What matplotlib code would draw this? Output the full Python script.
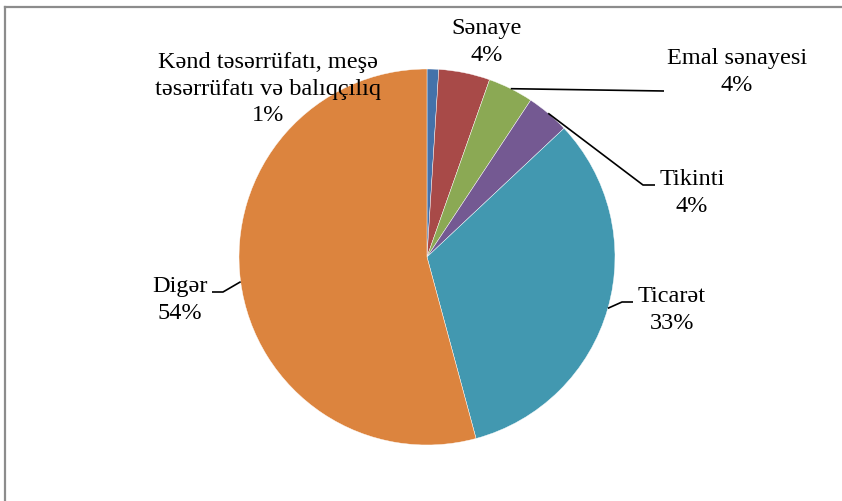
import matplotlib
matplotlib.use("Agg")

import numpy as np
import matplotlib.pyplot as plt
from matplotlib.lines import Line2D

# sectors, clockwise from 12 o'clock
labels = ["Kənd təsərrüfatı, meşə\ntəsərrüfatı və balıqçılıq", "Sənaye", "Emal sənayesi",
          "Tikinti", "Ticarət", "Digər"]
shares = [1.0, 4.4, 3.9, 3.7, 32.8, 54.2]
colors = ["#4472AA", "#A84A48", "#8BA954", "#745992", "#4298B0", "#DC843E"]

W, H = 842, 502
plt.rcParams["font.family"] = ["Liberation Serif", "DejaVu Serif"]

fig = plt.figure(figsize=(W / 100, H / 100), dpi=100)
ax = fig.add_axes([0, 0, 1, 1])

cx, cy, r = 427, H - 258, 188
wedges, _ = ax.pie(shares, colors=colors, startangle=90, counterclock=False,
                   center=(cx, cy), radius=r, frame=True,
                   wedgeprops=dict(edgecolor="white", linewidth=0.3))
ax.set_xlim(0, W)
ax.set_ylim(0, H)
ax.axis("off")

# label centre (pixels from top-left) and leader elbow (None = no leader)
label_pos = [(268, 89), (487, 42), (737, 72), (692, 193), (672, 310), (180, 300)]
elbows = [None, None, [(664, 92)], [(643, 186), (655, 186)],
          [(622, 303), (633, 303)], [(223, 293), (212, 293)]]

for w, lab, val, (lx, ly), elb in zip(wedges, labels, shares, label_pos, elbows):
    ax.text(lx, H - ly, f"{lab}\n{val:.0f}%", ha="center", va="center",
            fontsize=17.5, linespacing=1.35, color="black")
    if elb:
        mid = np.deg2rad((w.theta1 + w.theta2) / 2)
        xs = [cx + r * np.cos(mid)] + [p[0] for p in elb]
        ys = [cy + r * np.sin(mid)] + [H - p[1] for p in elb]
        ax.plot(xs, ys, color="black", lw=1.2, solid_capstyle="butt")

# chart area border (cropped on right and bottom)
fig.add_artist(Line2D([5 / W, 1], [1 - 8 / H, 1 - 8 / H], color="#8c8c8c", lw=1.6,
                      transform=fig.transFigure))
fig.add_artist(Line2D([5 / W, 5 / W], [0, 1 - 8 / H], color="#8c8c8c", lw=1.6,
                      transform=fig.transFigure))

fig.savefig("out.png", dpi=100, facecolor="white")
plt.close(fig)
